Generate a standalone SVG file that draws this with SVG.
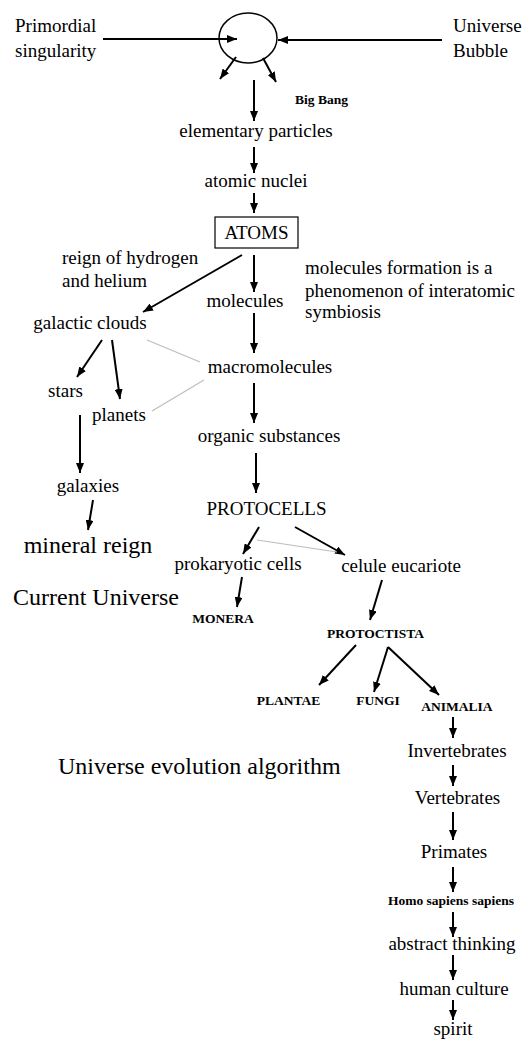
<svg xmlns="http://www.w3.org/2000/svg" width="522" height="1039" viewBox="0 0 522 1039">
<defs>
<style>
.arr{stroke:#000;stroke-width:2;fill:none;marker-end:url(#ah);}
.faint{stroke:#bdbdbd;stroke-width:1.2;fill:none;}
</style>
<marker id="ah" viewBox="0 0 10 8" refX="10" refY="4" markerWidth="10" markerHeight="8" markerUnits="userSpaceOnUse" orient="auto">
<path d="M0,0 L10,4 L0,8 z" fill="#000"/>
</marker>
</defs>
<rect width="522" height="1039" fill="#fff"/>

<g id="connectors">
<line class="arr" x1="103" y1="39" x2="237" y2="39"/>
<line class="arr" x1="442" y1="40" x2="278" y2="40"/>
<line class="arr" x1="236" y1="57" x2="220" y2="79"/>
<line class="arr" x1="263" y1="58" x2="276" y2="82"/>
<line class="arr" x1="254" y1="80" x2="254" y2="121"/>
<line class="arr" x1="254" y1="147" x2="254" y2="173"/>
<line class="arr" x1="254" y1="193" x2="254" y2="213"/>
<line class="arr" x1="242" y1="255" x2="143" y2="312"/>
<line class="arr" x1="254" y1="255" x2="254" y2="292"/>
<line class="arr" x1="254" y1="313" x2="254" y2="353"/>
<line class="faint" x1="147" y1="340" x2="200" y2="362"/>
<line class="faint" x1="152" y1="411" x2="204" y2="380"/>
<line class="arr" x1="102" y1="340" x2="77" y2="377"/>
<line class="arr" x1="112" y1="340" x2="120" y2="399"/>
<line class="arr" x1="80" y1="415" x2="80" y2="473"/>
<line class="arr" x1="93" y1="500" x2="88" y2="530"/>
<line class="arr" x1="254" y1="383" x2="254" y2="423"/>
<line class="arr" x1="256" y1="453" x2="256" y2="493"/>
<line class="arr" x1="259" y1="527" x2="243" y2="554"/>
<line class="arr" x1="295" y1="527" x2="345" y2="555"/>
<line class="faint" x1="257" y1="540" x2="337" y2="552"/>
<line class="arr" x1="242" y1="577" x2="237" y2="607"/>
<line class="arr" x1="382" y1="580" x2="370" y2="620"/>
<line class="arr" x1="356" y1="645" x2="319" y2="685"/>
<line class="arr" x1="388" y1="647" x2="374" y2="692"/>
<line class="arr" x1="388" y1="647" x2="439" y2="695"/>
<line class="arr" x1="453" y1="717" x2="453" y2="738"/>
<line class="arr" x1="453" y1="765" x2="453" y2="786"/>
<line class="arr" x1="453" y1="812" x2="453" y2="840"/>
<line class="arr" x1="453" y1="867" x2="453" y2="892"/>
<line class="arr" x1="453" y1="912" x2="453" y2="937"/>
<line class="arr" x1="453" y1="955" x2="453" y2="980"/>
<line class="arr" x1="453" y1="1000" x2="453" y2="1020"/>
</g>

<g id="bubble"><ellipse cx="248" cy="38" rx="29" ry="25" fill="none" stroke="#000" stroke-width="1.5"/></g>
<g id="labels" font-family="Liberation Serif" font-size="19">
<g id="primordial"><text x="15" y="32">Primordial</text><text x="15" y="57">singularity</text></g>
<g id="universe-bubble"><text x="453" y="32">Universe</text><text x="453" y="57">Bubble</text></g>
<g id="elementary"><text text-anchor="middle" x="256" y="137">elementary particles</text></g>
<g id="nuclei"><text text-anchor="middle" x="256" y="187">atomic nuclei</text></g>
<g id="atoms"><rect x="215" y="217" width="83" height="31" fill="none" stroke="#000" stroke-width="1.2"/><text text-anchor="middle" x="256.5" y="239">ATOMS</text></g>
<g id="reign-h"><text x="62" y="264">reign of hydrogen</text><text x="62" y="287">and helium</text></g>
<g id="note"><text x="305" y="274">molecules formation is a</text><text x="305" y="297">phenomenon of interatomic</text><text x="305" y="318">symbiosis</text></g>
<g id="molecules"><text text-anchor="middle" x="245" y="307">molecules</text></g>
<g id="galactic"><text text-anchor="middle" x="90" y="329">galactic clouds</text></g>
<g id="macro"><text text-anchor="middle" x="270" y="373">macromolecules</text></g>
<g id="stars"><text text-anchor="middle" x="65.5" y="397">stars</text></g>
<g id="planets"><text text-anchor="middle" x="119" y="421">planets</text></g>
<g id="organic"><text text-anchor="middle" x="269" y="442">organic substances</text></g>
<g id="galaxies"><text text-anchor="middle" x="88" y="492">galaxies</text></g>
<g id="mineral"><text text-anchor="middle" x="88" y="553" font-size="24">mineral reign</text></g>
<g id="current"><text x="13" y="605" font-size="24">Current Universe</text></g>
<g id="protocells"><text text-anchor="middle" x="266.5" y="515">PROTOCELLS</text></g>
<g id="prokaryotic"><text text-anchor="middle" x="238" y="570">prokaryotic cells</text></g>
<g id="eucariote"><text text-anchor="middle" x="401" y="572">celule eucariote</text></g>
<g id="algorithm"><text x="58" y="774" font-size="24">Universe evolution algorithm</text></g>
<g id="invertebrates"><text text-anchor="middle" x="457" y="757">Invertebrates</text></g>
<g id="vertebrates"><text text-anchor="middle" x="457.5" y="804">Vertebrates</text></g>
<g id="primates"><text text-anchor="middle" x="454" y="858">Primates</text></g>
<g id="abstract"><text text-anchor="middle" x="452" y="950">abstract thinking</text></g>
<g id="culture"><text text-anchor="middle" x="454" y="995">human culture</text></g>
<g id="spirit"><text text-anchor="middle" x="453" y="1035">spirit</text></g>
<g font-size="13.5" font-weight="bold" text-anchor="middle">
<g id="bigbang"><text text-anchor="start" x="295" y="104">Big Bang</text></g>
<g id="monera"><text x="223" y="623">MONERA</text></g>
<g id="protoctista"><text x="375.5" y="638">PROTOCTISTA</text></g>
<g id="plantae"><text x="288.5" y="705">PLANTAE</text></g>
<g id="fungi"><text x="378" y="705">FUNGI</text></g>
<g id="animalia"><text x="457" y="711">ANIMALIA</text></g>
<g id="homo"><text x="451" y="905">Homo sapiens sapiens</text></g>
</g>
</g>
</svg>
